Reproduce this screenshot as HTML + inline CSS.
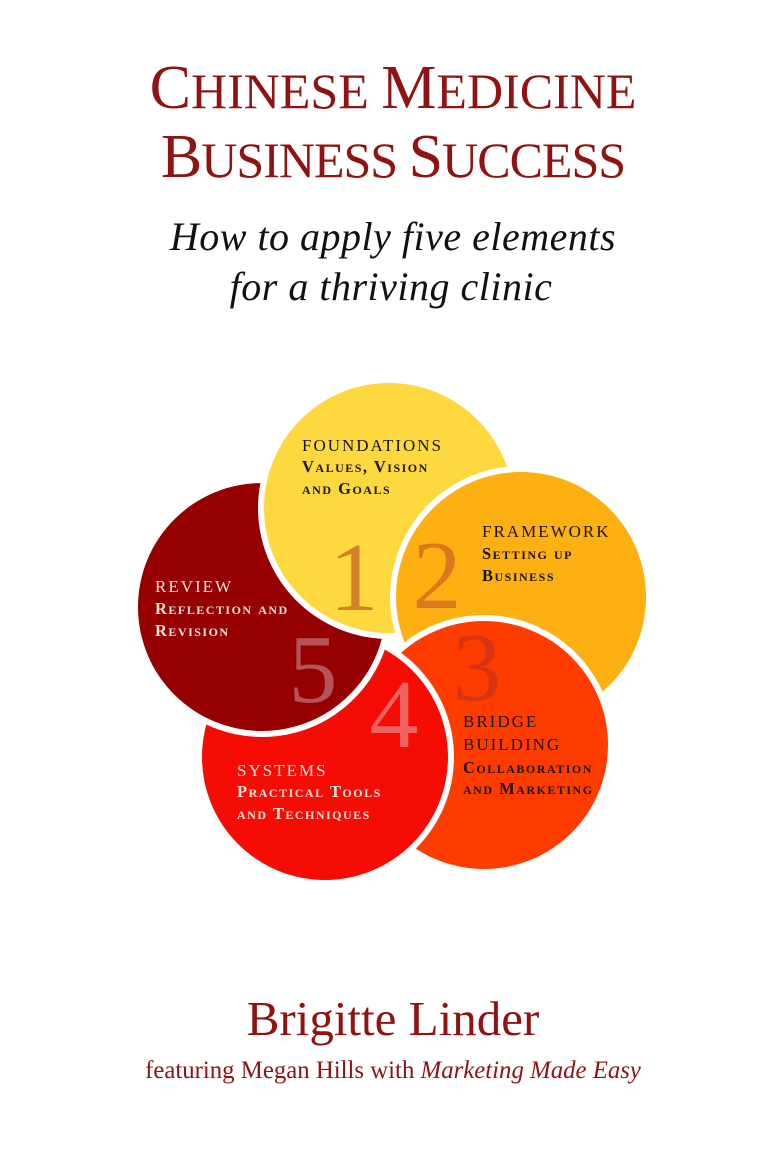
<!DOCTYPE html>
<html>
<head>
<meta charset="utf-8">
<style>
html,body{margin:0;padding:0;background:#fff;}
body{width:768px;height:1152px;overflow:hidden;}
svg{display:block;}
text{font-family:"Liberation Serif",serif;}
.h{font-size:17px;letter-spacing:2px;}
.s{font-size:16.5px;letter-spacing:1.5px;font-variant:small-caps;font-weight:bold;}
.dk{fill:#1a1410;}
.lt{fill:#f6e2dc;}
.num{font-size:98px;text-anchor:middle;}
</style>
</head>
<body>
<svg width="768" height="1152" viewBox="0 0 768 1152" xmlns="http://www.w3.org/2000/svg">
  <defs>
    <clipPath id="notO">
      <path clip-rule="evenodd" d="M0 0H768V1152H0Z M390 597a131 131 0 1 0 262 0a131 131 0 1 0 -262 0Z"/>
    </clipPath>
  </defs>

  <!-- Title -->
  <text x="393" y="108" text-anchor="middle" font-size="62" fill="#8f1313">C<tspan font-size="50">HINESE </tspan>M<tspan font-size="50">EDICINE</tspan></text>
  <text x="393" y="177" text-anchor="middle" font-size="62" fill="#8f1313" letter-spacing="-1">B<tspan font-size="50">USINESS </tspan>S<tspan font-size="50">UCCESS</tspan></text>

  <!-- Subtitle -->
  <text x="393" y="250" text-anchor="middle" font-size="40" font-style="italic" fill="#111" letter-spacing="0.5">How to apply five elements</text>
  <text x="391" y="300" text-anchor="middle" font-size="40" font-style="italic" fill="#111" letter-spacing="0.5">for a thriving clinic</text>

  <!-- Circles -->
  <g>
    <circle cx="389" cy="508" r="131" fill="#fff"/>
    <circle cx="389" cy="508" r="125" fill="#fdd93f"/>

    <circle cx="521" cy="597" r="131" fill="#fff"/>
    <circle cx="521" cy="597" r="125" fill="#fdb011"/>

    <circle cx="484" cy="745" r="130" fill="#fff"/>
    <circle cx="484" cy="745" r="124" fill="#ff3c00"/>

    <circle cx="325" cy="757" r="129" fill="#fff"/>
    <circle cx="325" cy="757" r="123" fill="#f50d05"/>

    <circle cx="262" cy="607" r="130" fill="#fff"/>
    <circle cx="262" cy="607" r="124" fill="#960000"/>

    <g clip-path="url(#notO)">
      <circle cx="389" cy="508" r="131" fill="#fff"/>
      <circle cx="389" cy="508" r="125" fill="#fdd93f"/>
    </g>
  </g>

  <!-- Numbers -->
  <text class="num" x="354" y="610" fill="#d4812a">1</text>
  <text class="num" x="437" y="608" fill="#d9781c">2</text>
  <text class="num" x="477" y="700" fill="#d83412">3</text>
  <text class="num" x="394" y="747" fill="#f06262">4</text>
  <text class="num" x="313" y="702" fill="#b5535b">5</text>

  <!-- Labels -->
  <text class="h dk" x="302" y="451">FOUNDATIONS</text>
  <text class="s dk" x="302" y="472">Values, Vision</text>
  <text class="s dk" x="302" y="494">and Goals</text>

  <text class="h dk" x="482" y="537">FRAMEWORK</text>
  <text class="s dk" x="482" y="559">Setting up</text>
  <text class="s dk" x="482" y="581">Business</text>

  <text class="h dk" x="463" y="727">BRIDGE</text>
  <text class="h dk" x="463" y="750">BUILDING</text>
  <text class="s dk" x="463" y="773">Collaboration</text>
  <text class="s dk" x="463" y="794">and Marketing</text>

  <text class="h lt" x="237" y="776">SYSTEMS</text>
  <text class="s lt" x="237" y="797">Practical Tools</text>
  <text class="s lt" x="237" y="819">and Techniques</text>

  <text class="h lt" x="155" y="592">REVIEW</text>
  <text class="s lt" x="155" y="614">Reflection and</text>
  <text class="s lt" x="155" y="636">Revision</text>

  <!-- Author -->
  <text x="393" y="1035" text-anchor="middle" font-size="49" fill="#8f1313">Brigitte Linder</text>
  <text x="393" y="1078" text-anchor="middle" font-size="24.8" fill="#8f1313">featuring Megan Hills with <tspan font-style="italic">Marketing Made Easy</tspan></text>
</svg>
</body>
</html>
